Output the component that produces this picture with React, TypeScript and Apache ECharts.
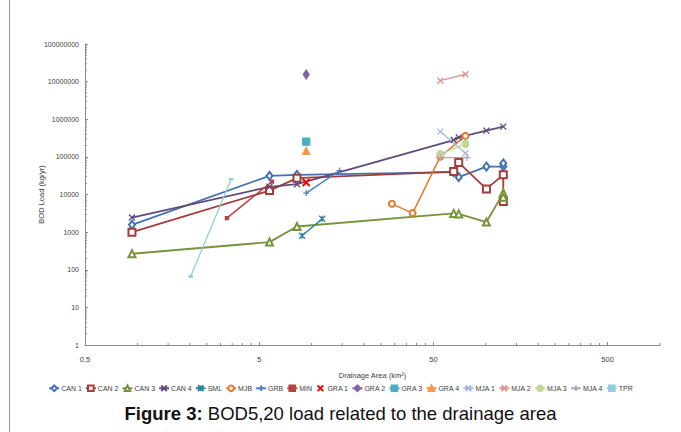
import React, { useEffect, useRef } from "react";
import * as echarts from "echarts";

// ---- data (drainage area km², BOD load kg/yr) ----
const X_MIN = 0.5;
const X_MAX = 1000;
const X_TICKS = [0.5, 5, 50, 500];
const Y_TICKS = [1, 10, 100, 1000, 10000, 100000, 1000000, 10000000, 100000000];

const CAN1_AREA = [0.93, 5.73, 8.24, 65.4, 69.9, 100.8, 126, 126];
const CAN1_LOAD = [1560, 31300, 33300, 39200, 28900, 55300, 55300, 67000];
const CAN2_AREA = [0.93, 5.73, 8.24, 65.4, 69.9, 100.8, 126, 126];
const CAN2_LOAD = [1000, 12700, 27200, 40700, 70600, 14100, 33300, 6500];
const CAN3_AREA = [0.93, 5.73, 8.24, 65.4, 69.9, 100.8, 126, 126];
const CAN3_LOAD = [266, 543, 1410, 3150, 3050, 1850, 10900, 8500];
const CAN4_AREA = [0.93, 5.73, 8.24, 65.4, 69.9, 100.8, 126];
const CAN4_LOAD = [2440, 16000, 18800, 280000, 330000, 499000, 638000];
const SML_AREA = [8.8, 11.5];
const SML_LOAD = [800, 2260];
const MJB_AREA = [28.9, 38, 54.8, 76.4];
const MJB_LOAD = [5650, 3200, 102000, 361000];
const GRB_AREA = [9.31, 14.47];
const GRB_LOAD = [10900, 43300];
const MIN_AREA = [3.26, 5.92];
const MIN_LOAD = [2360, 22100];
const GRA1_AREA = [9.31];
const GRA1_LOAD = [20800];
const GRA2_AREA = [9.31];
const GRA2_LOAD = [15500000];
const GRA3_AREA = [9.31];
const GRA3_LOAD = [255000];
const GRA4_AREA = [9.31];
const GRA4_LOAD = [144000];
const MJA1_AREA = [54.8, 76.4];
const MJA1_LOAD = [470000, 125000];
const MJA2_AREA = [54.8, 76.4];
const MJA2_LOAD = [10600000, 15700000];
const MJA3_AREA = [54.8, 76.4];
const MJA3_LOAD = [118000, 221000];
const MJA4_AREA = [54.8, 78.1];
const MJA4_LOAD = [95800, 95800];
const TPR_AREA = [2.02, 3.45];
const TPR_LOAD = [66, 25600];

const FONT = '"Liberation Sans", Arial, sans-serif';

const X_PATH = "path://M0,0L10,10M10,0L0,10";
const PLUS_PATH = "path://M5,0L5,10M0,5L10,5";
const STAR_PATH = "path://M0,0L10,10M10,0L0,10M5,0L5,10";

const toXY = (xs: number[], ys: number[]) =>
  xs.map((x, i) => [Math.log10(x / X_MIN), Math.log10(ys[i])]);

type Opt = { symbol: string; size: any; width?: number; stroke?: number; noLine?: boolean };

function mk(name: string, xs: number[], ys: number[], color: string, o: Opt) {
  const isPath = o.symbol.startsWith("path://");
  return {
    type: "line",
    name,
    data: toXY(xs, ys),
    symbol: o.symbol,
    symbolSize: o.size,
    showSymbol: true,
    clip: false,
    lineStyle: { color, width: o.noLine ? 0 : o.width ?? 1.8 },
    itemStyle: {
      color: isPath ? "none" : color,
      borderColor: color,
      borderWidth: o.stroke ?? (isPath ? 1.3 : 1.2),
    },
    emphasis: { disabled: true },
  };
}

// minor tick positions on both log axes
const xMinor: number[][] = [];
X_TICKS.forEach((d) => {
  for (let k = 2; k <= 9; k++) {
    const v = d * k;
    if (v <= X_MAX) xMinor.push([Math.log10(v / X_MIN), 0]);
  }
});
const yMinor: number[][] = [];
Y_TICKS.slice(0, -1).forEach((d) => {
  for (let k = 2; k <= 9; k++) yMinor.push([0, Math.log10(d * k)]);
});

const NAMES = [
  "CAN 1", "CAN 2", "CAN 3", "CAN 4", "SML", "MJB", "GRB", "MIN", "GRA 1",
  "GRA 2", "GRA 3", "GRA 4", "MJA 1", "MJA 2", "MJA 3", "MJA 4", "TPR",
];

export default function App() {
  const ref = useRef<HTMLDivElement>(null);
  useEffect(() => {
    if (!ref.current) return;
    const chart = echarts.init(ref.current, undefined, { renderer: "svg" });
    const axisColor = "#8c8c8c";
    const option: any = {
      animation: false,
      backgroundColor: "#fff",
      textStyle: { fontFamily: FONT },
      title: {
        text: "{b|Figure 3:} BOD5,20 load related to the drainage area",
        left: "center",
        top: 399,
        textStyle: {
          fontFamily: FONT,
          fontSize: 18.5,
          fontWeight: "normal",
          color: "#111",
          rich: {
            b: { fontFamily: FONT, fontSize: 18.5, fontWeight: "bold", color: "#111" },
          },
        },
      },
      legend: {
        data: NAMES,
        left: "center",
        top: 383,
        itemWidth: 10,
        itemHeight: 7,
        itemGap: 3,
        padding: 0,
        textStyle: { fontSize: 7, color: "#404040", fontFamily: FONT, padding: [0, 0, 0, -3] },
        selectedMode: false,
      },
      grid: { left: 85, right: 21, top: 44, bottom: 87, containLabel: false },
      xAxis: {
        type: "value",
        min: 0,
        max: Math.log10(X_MAX / X_MIN),
        interval: 1,
        name: "Drainage Area (km²)",
        nameLocation: "middle",
        nameGap: 26,
        nameMoveOverlap: false,
        nameTextStyle: { fontSize: 7.5, color: "#404040", fontFamily: FONT },
        axisLine: { lineStyle: { color: axisColor, width: 1 } },
        axisTick: { inside: true, length: 3, lineStyle: { color: axisColor } },
        splitLine: { show: false },
        axisLabel: {
          fontSize: 7.5,
          color: "#404040",
          margin: 10,
          showMaxLabel: false,
          formatter: (v: number) => {
            const r = Math.round(v);
            if (Math.abs(v - r) > 1e-6 || r >= X_TICKS.length) return "";
            return String(X_TICKS[r]).replace(".", ",");
          },
        },
      },
      yAxis: {
        type: "value",
        min: 0,
        max: 8,
        interval: 1,
        name: "BOD Load (kg/yr)",
        nameLocation: "middle",
        nameGap: 40,
        nameMoveOverlap: false,
        nameTextStyle: { fontSize: 7.5, color: "#404040", fontFamily: FONT },
        axisLine: { show: true, lineStyle: { color: axisColor, width: 1 } },
        axisTick: { show: true, inside: true, length: 3, lineStyle: { color: axisColor } },
        splitLine: { show: false },
        axisLabel: {
          fontSize: 7,
          color: "#404040",
          margin: 6,
          formatter: (v: number) => String(Y_TICKS[Math.round(v)]),
        },
      },
      graphic: [
        { type: "line", shape: { x1: 9.5, y1: 0, x2: 9.5, y2: 432 }, style: { stroke: "#9a9a9a", lineWidth: 1 } },
      ],
      series: [
        {
          type: "custom",
          name: "xminor",
          data: xMinor,
          silent: true,
          clip: false,
          renderItem: (_p: any, api: any) => {
            const pt = api.coord([api.value(0), 0]);
            return { type: "line", shape: { x1: pt[0], y1: pt[1], x2: pt[0], y2: pt[1] - 2 }, style: { stroke: axisColor, lineWidth: 1 } };
          },
        },
        {
          type: "custom",
          name: "yminor",
          data: yMinor,
          silent: true,
          clip: false,
          renderItem: (_p: any, api: any) => {
            const pt = api.coord([0, api.value(1)]);
            return { type: "line", shape: { x1: pt[0], y1: pt[1], x2: pt[0] + 2, y2: pt[1] }, style: { stroke: axisColor, lineWidth: 1 } };
          },
        },
        mk("CAN 1", CAN1_AREA, CAN1_LOAD, "#4372B0", { symbol: "emptyDiamond", size: [6, 8] }),
        mk("CAN 2", CAN2_AREA, CAN2_LOAD, "#A23D3A", { symbol: "emptyRect", size: 7 }),
        mk("CAN 3", CAN3_AREA, CAN3_LOAD, "#77933C", { symbol: "emptyTriangle", size: 7 }),
        mk("CAN 4", CAN4_AREA, CAN4_LOAD, "#604A7B", { symbol: X_PATH, size: 6 }),
        mk("SML", SML_AREA, SML_LOAD, "#31859C", { symbol: STAR_PATH, size: 6, width: 1.5 }),
        mk("MJB", MJB_AREA, MJB_LOAD, "#E07A2C", { symbol: "emptyCircle", size: 6, width: 1.5 }),
        mk("GRB", GRB_AREA, GRB_LOAD, "#4F81BD", { symbol: PLUS_PATH, size: 6, width: 1.5 }),
        mk("MIN", MIN_AREA, MIN_LOAD, "#B8423F", { symbol: "rect", size: 3, width: 1.5 }),
        mk("GRA 1", GRA1_AREA, GRA1_LOAD, "#FF0000", { symbol: X_PATH, size: 7, stroke: 2, noLine: true }),
        mk("GRA 2", GRA2_AREA, GRA2_LOAD, "#8064A2", { symbol: "diamond", size: [6, 9] }),
        mk("GRA 3", GRA3_AREA, GRA3_LOAD, "#4BACC6", { symbol: "rect", size: 7 }),
        mk("GRA 4", GRA4_AREA, GRA4_LOAD, "#F79646", { symbol: "triangle", size: 7 }),
        mk("MJA 1", MJA1_AREA, MJA1_LOAD, "#A5B8DA", { symbol: X_PATH, size: 6, width: 1.3 }),
        mk("MJA 2", MJA2_AREA, MJA2_LOAD, "#D99694", { symbol: X_PATH, size: 6, width: 1.3 }),
        mk("MJA 3", MJA3_AREA, MJA3_LOAD, "#C3D69B", { symbol: "circle", size: 7, width: 1.3 }),
        mk("MJA 4", MJA4_AREA, MJA4_LOAD, "#B3A2C7", { symbol: PLUS_PATH, size: 7, width: 1.3 }),
        mk("TPR", TPR_AREA, TPR_LOAD, "#93CDDD", { symbol: "rect", size: [3, 1.5], width: 1.3 }),
      ],
    };
    chart.setOption(option);
    return () => chart.dispose();
  }, []);
  return (
    <div
      ref={ref}
      style={{ position: "fixed", left: 0, top: 0, width: 681, height: 432, background: "#fff" }}
    />
  );
}
